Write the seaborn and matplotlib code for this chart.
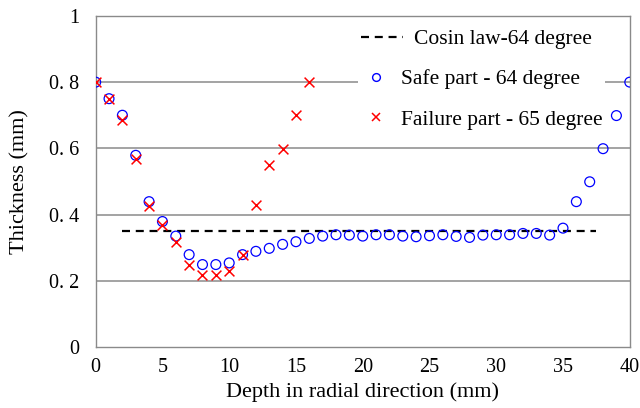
import numpy as np
import pandas as pd
import matplotlib
matplotlib.use("Agg")
import matplotlib.pyplot as plt
from matplotlib.lines import Line2D
from matplotlib.legend_handler import HandlerBase
from matplotlib.transforms import Affine2D
import seaborn as sns

# ---- data ----
safe_x = list(range(0, 41))
safe_y = [0.80, 0.75, 0.70, 0.579, 0.439, 0.379, 0.335, 0.279, 0.249, 0.249,
          0.254, 0.279, 0.289, 0.298, 0.310, 0.318, 0.328, 0.335, 0.339, 0.338,
          0.335, 0.339, 0.339, 0.335, 0.333, 0.336, 0.339, 0.334, 0.331, 0.338,
          0.339, 0.339, 0.343, 0.343, 0.338, 0.359, 0.439, 0.499, 0.599, 0.699,
          0.80]
fail_x = list(range(0, 17))
fail_y = [0.80, 0.75, 0.687, 0.568, 0.427, 0.367, 0.318, 0.247, 0.217, 0.217,
          0.229, 0.279, 0.429, 0.549, 0.599, 0.70, 0.80]
cosin_x = [2, 37.5]
cosin_y = [0.35, 0.35]

xticks = [0, 5, 10, 15, 20, 25, 30, 35, 40]
yticks = [0, 0.2, 0.4, 0.6, 0.8, 1.0]
ytick_labels = ["0", "0. 2", "0. 4", "0. 6", "0. 8", "1"]

label_cosin = "Cosin law-64 degree"
label_safe = "Safe part - 64 degree"
label_fail = "Failure part - 65 degree"

sns.set_style("white", {"text.color": "black", "axes.labelcolor": "black",
                        "xtick.color": "black", "ytick.color": "black"})
plt.rcParams["font.family"] = ["Liberation Serif", "DejaVu Serif"]

fig = plt.figure(figsize=(6.4, 4.08), dpi=100)
ax = fig.add_axes([0.1495, 0.1495, 0.8345, 0.8115])

df_safe = pd.DataFrame({"x": safe_x, "y": safe_y})
df_fail = pd.DataFrame({"x": fail_x, "y": fail_y})
df_cos = pd.DataFrame({"x": cosin_x, "y": cosin_y})

# gridlines (only interior)
for yv in yticks[1:-1]:
    ax.axhline(yv, color="#8a8a8a", lw=1.1, zorder=0.5)

sns.lineplot(data=df_cos, x="x", y="y", ax=ax, color="black", lw=1.6,
             dashes=False, zorder=2)
ax.lines[-1].set_dashes((3.6, 2.6))

sns.scatterplot(data=df_safe, x="x", y="y", ax=ax, marker="o", s=50,
                facecolor="none", edgecolor="#0000ff", linewidth=0.9, zorder=3)
sns.scatterplot(data=df_fail, x="x", y="y", ax=ax, marker="x", s=50,
                color="#ff0000", linewidth=1.1, zorder=4)

ax.set_xlim(0, 40)
ax.set_ylim(0, 1)
ax.set_xticks(xticks)
ax.set_xticklabels([str(v) for v in xticks], fontsize=14.5, color="black")
ax.set_yticks(yticks)
ax.set_yticklabels(ytick_labels, fontsize=14.5, color="black")
ax.tick_params(axis="x", direction="in", length=5, color="#8a8a8a", pad=8)
ax.tick_params(axis="y", length=0, pad=12)
for sp in ax.spines.values():
    sp.set_color("#8a8a8a")
    sp.set_linewidth(1.0)

ax.set_xlabel("Depth in radial direction (mm)", fontsize=16, labelpad=4,
              color="black")
ax.set_ylabel("Thickness (mm)", fontsize=16, labelpad=14, color="black")


class LongDashHandler(HandlerBase):
    """Dashed legend sample that runs a bit longer than the marker slot."""
    def create_artists(self, legend, orig_handle, xdescent, ydescent,
                       width, height, fontsize, trans):
        y = height / 2.0 - ydescent
        x0 = -xdescent
        x1 = -xdescent + width + 0.55 * fontsize
        ln = Line2D([x0, x1], [y, y], color="black", lw=1.6,
                    dashes=(3.6, 2.6), transform=trans)
        return [ln]


dash_handle = Line2D([], [], color="black", lw=1.6)
handles = [
    dash_handle,
    Line2D([], [], ls="", marker="o", markersize=5.6, markerfacecolor="none",
           markeredgecolor="#0000ff", markeredgewidth=1.0),
    Line2D([], [], ls="", marker="x", markersize=6.2, color="#ff0000",
           markeredgewidth=1.1),
]
leg = ax.legend(handles, [label_cosin, label_safe, label_fail],
                loc="upper right", bbox_to_anchor=(0.953, 0.966),
                fontsize=15.5, frameon=True, facecolor="white", edgecolor="none",
                framealpha=1, fancybox=False, borderaxespad=0,
                handlelength=1.4, handletextpad=0.47, labelspacing=0.93,
                borderpad=0.1, handler_map={dash_handle: LongDashHandler()})
leg.set_zorder(5)
for t in leg.get_texts():
    t.set_color("black")
# indent the first legend label past its longer dashed sample
t0 = leg.get_texts()[0]
t0.set_transform(t0.get_transform() + Affine2D().translate(13, 0))

fig.savefig("out.png", dpi=100)
